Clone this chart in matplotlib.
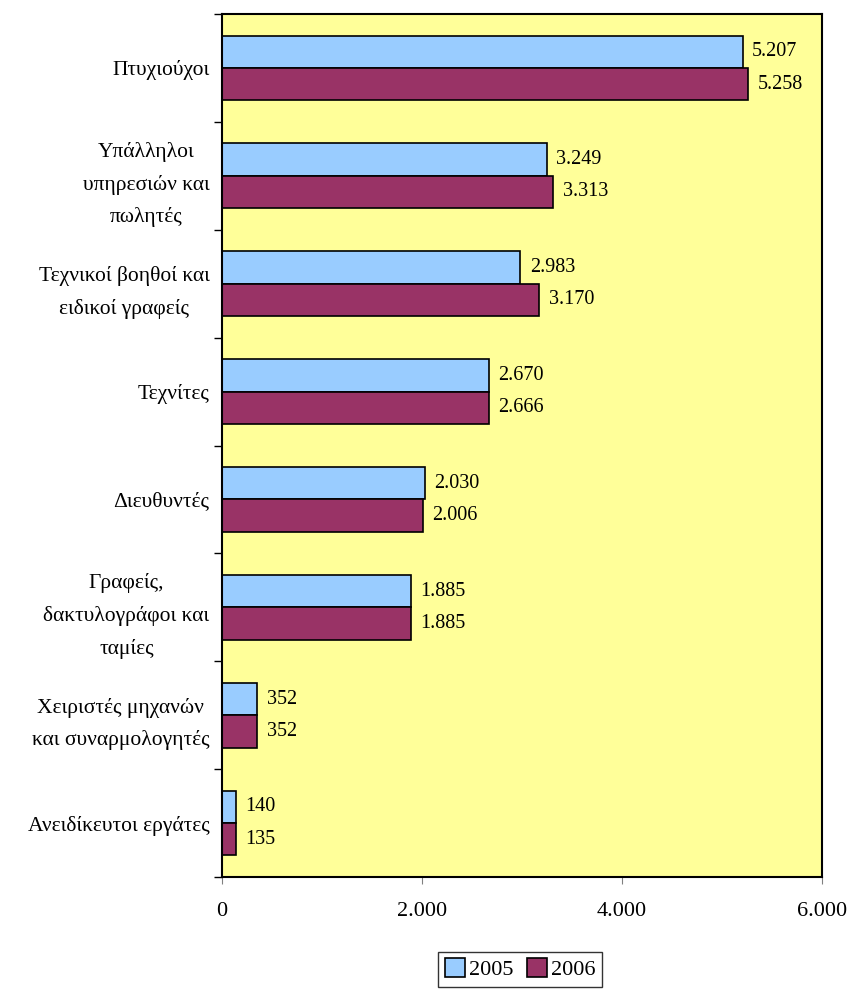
import numpy as np
import matplotlib.pyplot as plt
from matplotlib.ticker import FuncFormatter, FixedLocator

plt.rcParams['font.family'] = ['Liberation Serif', 'DejaVu Serif']

categories = ["Πτυχιούχοι",
              "Υπάλληλοι\nυπηρεσιών και\nπωλητές",
              "Τεχνικοί βοηθοί και\nειδικοί γραφείς",
              "Τεχνίτες",
              "Διευθυντές",
              "Γραφείς,\nδακτυλογράφοι και\nταμίες",
              "Χειριστές μηχανών\nκαι συναρμολογητές",
              "Ανειδίκευτοι εργάτες"]
vals_2005 = [5207, 3249, 2983, 2670, 2030, 1885, 352, 140]
vals_2006 = [5258, 3313, 3170, 2666, 2006, 1885, 352, 135]
years = ["2005", "2006"]


def fmt(v):
    return "{:,}".format(int(v)).replace(",", ".")


fig = plt.figure(figsize=(8.5, 9.9), dpi=100)
ax = fig.add_axes([0.2612, 0.1141, 0.7059, 0.8718])
ax.set_facecolor('#FFFF99')

y = np.arange(len(categories))
h = 0.3
b1 = ax.barh(y - h / 2, vals_2005, height=h, color='#99CCFF', edgecolor='black', linewidth=1.2, label=years[0])
b2 = ax.barh(y + h / 2, vals_2006, height=h, color='#993366', edgecolor='black', linewidth=1.2, label=years[1])

for bars, vals in ((b1, vals_2005), (b2, vals_2006)):
    for bar, v in zip(bars, vals):
        ax.text(v + 95, bar.get_y() + bar.get_height() / 2, fmt(v),
                va='center', ha='left', fontsize=14.5)

ax.set_ylim(len(categories) - 0.5, -0.5)
ax.set_xlim(0, 6000)
ax.set_yticks(y)
ax.set_yticklabels(categories, fontsize=15.5, linespacing=1.85, ha='right', multialignment='center')
ax.tick_params(axis='y', length=0, pad=9)
ax.yaxis.set_minor_locator(FixedLocator(np.arange(-0.5, len(categories), 1)))
ax.tick_params(axis='y', which='minor', length=6, width=1, color='black', direction='out')

ax.set_xticks([0, 2000, 4000, 6000])
ax.xaxis.set_major_formatter(FuncFormatter(lambda v, p: fmt(v)))
ax.tick_params(axis='x', length=5, color='#808080', labelsize=16, pad=13)

for s in ax.spines.values():
    s.set_linewidth(1.5)
    s.set_color('black')

leg = fig.legend(handles=[b1, b2], labels=years, loc='center', bbox_to_anchor=(0.612, 0.021),
                 ncol=2, fontsize=16, frameon=True, fancybox=False, handlelength=0.9,
                 handleheight=0.9, handletextpad=0.2, columnspacing=0.6, borderpad=0.3)
leg.get_frame().set_edgecolor('black')
leg.get_frame().set_linewidth(1.0)

fig.savefig('out.png', dpi=100)
